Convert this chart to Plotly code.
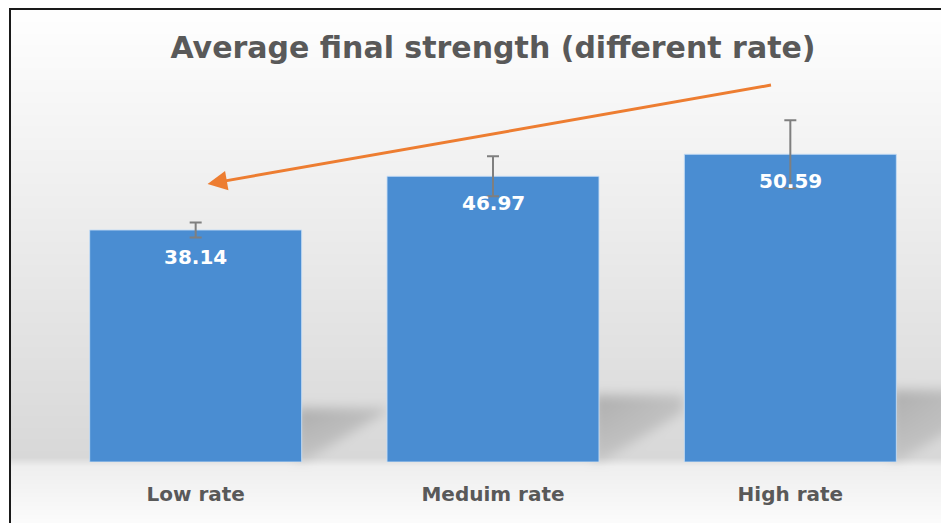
import base64, struct, zlib
import numpy as np
import plotly.graph_objects as go

# ---------------- data ----------------
categories = ["Low rate", "Meduim rate", "High rate"]
values = [38.14, 46.97, 50.59]
errors = [1.25, 3.3, 5.6]
value_labels = ["38.14", "46.97", "50.59"]
title_text = "Average final strength (different rate)"

# arrow (data coordinates: category index, value)
arrow_head = (0.04, 45.7)
arrow_tail = (1.94, 62.0)

# ---------------- layout geometry ----------------
OFF = 8                      # page body margin
VW, VH = 949, 523            # viewport
W, H = VW - OFF, VH - OFF    # figure size
ML, MR, MT, MB = 47 - OFF, 10, 97 - OFF, 61
PW = W - ML - MR
PH = H - MT - MB
YMAX = 60
BARGAP = 0.287


def x_ref(pos):
    """reference-page pixel of a category position"""
    return OFF + ML + (pos + 0.5) / len(categories) * PW


def y_ref(v):
    return OFF + MT + PH * (1 - v / YMAX)


# ---------------- background image (wall + floor gradient, bar shadows) ----
yy = np.arange(VH, dtype=float)[:, None]
xx = np.arange(VW, dtype=float)[None, :]
floor_y = y_ref(0)
wall = 255 - (255 - 216) * np.clip((yy - 10) / (floor_y - 10), 0, 1)
floor = 238 + (252 - 238) * np.clip((yy - floor_y) / (VH - floor_y), 0, 1)
bg = np.where(yy < floor_y, wall, floor) * np.ones((1, VW))

shadow = np.zeros((VH, VW))
half_w = (1 - BARGAP) / 2
for i, v in enumerate(values):
    R = x_ref(i + half_w)
    B = floor_y
    T = B - 0.235 * (B - y_ref(v))
    inside = (xx >= R - 6) & (xx <= R + 85) & (yy >= T) & (yy <= B - 0.6 * np.clip(xx - R, 0, None))
    fade_y = np.clip(1 - (yy - T) / (B - T), 0, 1) ** 0.7
    fade_x = np.clip(1 - (xx - R) / 100, 0, 1)
    shadow = np.maximum(shadow, inside * (0.3 + 0.7 * fade_y) * (0.55 + 0.45 * fade_x))


def box_blur(a, r):
    for axis in (0, 1):
        pad = [(r + 1, r) if ax == axis else (0, 0) for ax in (0, 1)]
        c = np.cumsum(np.pad(a, pad, mode="edge"), axis=axis)
        if axis == 0:
            a = (c[2 * r + 1:, :] - c[:-2 * r - 1, :]) / (2 * r + 1)
        else:
            a = (c[:, 2 * r + 1:] - c[:, :-2 * r - 1]) / (2 * r + 1)
    return a


bg = box_blur(bg, 4)
shadow = box_blur(box_blur(shadow, 6), 6)
img = bg - 46 * shadow
img[(yy < 9) | (xx < 11)] = 255
img = np.clip(img, 0, 255).astype(np.uint8)[OFF:, OFF:]
img = np.repeat(img[:, :, None], 3, axis=2)


def png_uri(arr):
    h, w, _ = arr.shape
    raw = b"".join(b"\x00" + arr[r].tobytes() for r in range(h))

    def chunk(tag, data):
        return struct.pack(">I", len(data)) + tag + data + struct.pack(">I", zlib.crc32(tag + data) & 0xFFFFFFFF)

    png = (b"\x89PNG\r\n\x1a\n" + chunk(b"IHDR", struct.pack(">IIBBBBB", w, h, 8, 2, 0, 0, 0))
           + chunk(b"IDAT", zlib.compress(raw, 9)) + chunk(b"IEND", b""))
    return "data:image/png;base64," + base64.b64encode(png).decode()


# ---------------- figure ----------------
FONT = "DejaVu Sans"
fig = go.Figure()
fig.add_trace(go.Bar(
    x=categories, y=values,
    marker=dict(color="#4a8dd2", line=dict(color="rgba(200,222,245,0.9)", width=1)),
    error_y=dict(type="data", array=errors, visible=True, color="#7f7f7f", thickness=2, width=6),
    hoverinfo="skip",
))

for c, v, t in zip(categories, values, value_labels):
    fig.add_annotation(x=c, y=v, text="<b>%s</b>" % t, showarrow=False, yanchor="middle", yshift=-27,
                       font=dict(family=FONT, size=20, color="white"))

fig.add_annotation(x=arrow_head[0], y=arrow_head[1], ax=arrow_tail[0], ay=arrow_tail[1],
                   xref="x", yref="y", axref="x", ayref="y", text="", showarrow=True,
                   arrowhead=2, arrowsize=1.3, arrowwidth=3, arrowcolor="#ed7d31", standoff=0)

fig.add_layout_image(dict(source=png_uri(img), xref="paper", yref="paper",
                          x=-ML / PW, y=1 + MT / PH, sizex=W / PW, sizey=H / PH,
                          sizing="stretch", xanchor="left", yanchor="top", layer="below"))

# frame (top edge kept just inside the figure, left edge at reference x=10)
fig.add_shape(type="rect", xref="paper", yref="paper",
              x0=(10 - OFF - ML) / PW, x1=(W + 20 - ML) / PW,
              y0=-(MB + 20) / PH, y1=1 + (MT - 1) / PH,
              line=dict(color="#1a1a1a", width=2), fillcolor="rgba(0,0,0,0)", layer="above")

fig.update_layout(
    width=W, height=H,
    margin=dict(l=ML, r=MR, t=MT, b=MB),
    paper_bgcolor="white", plot_bgcolor="rgba(0,0,0,0)",
    bargap=BARGAP, showlegend=False,
    title=dict(text="<b>%s</b>" % title_text, x=0.5, xref="paper", xanchor="center",
               y=1 - (47 - OFF) / H, yref="container", yanchor="middle",
               font=dict(family=FONT, size=30, color="#595959")),
    xaxis=dict(showgrid=False, zeroline=False, showline=False, ticks="",
               tickfont=dict(family=FONT, size=20, color="#595959"), ticklabelstandoff=18,
               tickprefix="<b>", ticksuffix="</b>", range=[-0.5, 2.5]),
    yaxis=dict(visible=False, range=[0, YMAX]),
)

fig.write_html("out.html")
